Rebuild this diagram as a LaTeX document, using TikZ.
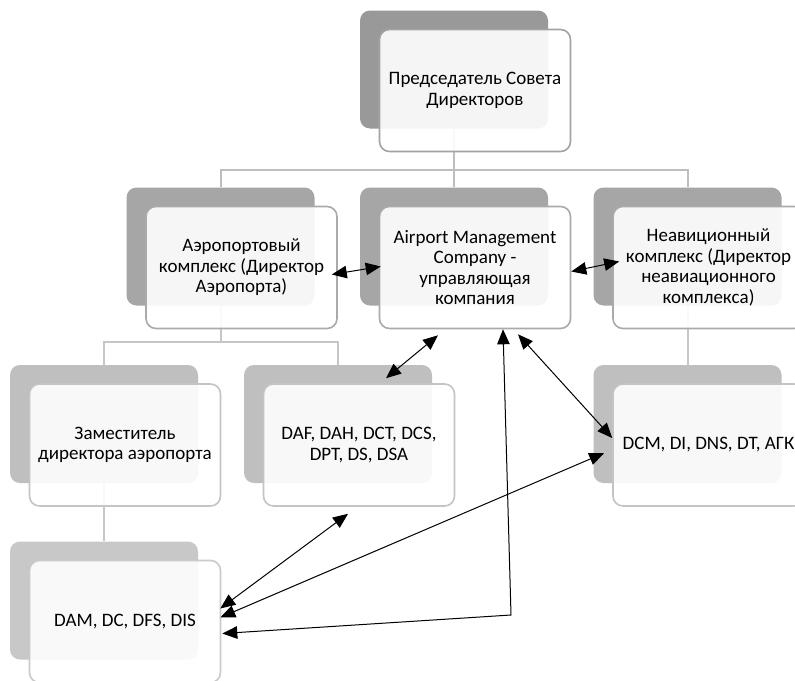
\documentclass[tikz,border=0pt]{standalone}
\usepackage{fontspec}
\setmainfont{Carlito}
\usetikzlibrary{arrows.meta}
\definecolor{plateA}{RGB}{153,153,153}
\definecolor{plateB}{RGB}{166,166,166}
\definecolor{plateC}{RGB}{191,191,191}
\definecolor{plateD}{RGB}{200,200,200}
\definecolor{rimA}{RGB}{163,163,163}
\definecolor{rimB}{RGB}{170,170,170}
\definecolor{rimC}{RGB}{196,196,196}
\definecolor{rimD}{RGB}{202,202,202}
\definecolor{linkA}{RGB}{190,190,190}
\definecolor{linkB}{RGB}{198,198,198}
\begin{document}
\begin{tikzpicture}[x=1pt,y=-1pt,
  back/.style={fill=#1, rounded corners=10pt, minimum width=188pt, minimum height=118pt, inner sep=0pt},
  card/.style={draw=#1, line width=1.6pt, fill=white, fill opacity=0.9, text opacity=1,
    rounded corners=10pt, minimum width=191pt, minimum height=122pt, inner sep=0pt,
    align=center, font=\fontsize{19}{20.6}\selectfont},
  link/.style={draw=#1, line width=2pt},
  rel/.style={line width=1pt, black, {Triangle[length=15pt,width=12.5pt]}-{Triangle[length=15pt,width=12.5pt]}}
]
\clip (0,0) rectangle (795,680);
\fill[white] (0,0) rectangle (795,680);

% shadow plates of the cards
\node[back=plateA] (topB) at (454,69.5) {};
\node[back=plateB] (l2lB) at (220.5,246.5) {};
\node[back=plateB] (l2mB) at (454,246.5) {};
\node[back=plateB] (l2rB) at (687.5,246.5) {};
\node[back=plateC] (l3lB) at (104,424) {};
\node[back=plateC] (l3mB) at (338,424) {};
\node[back=plateC] (l3rB) at (687.5,424) {};
\node[back=plateD] (l4B) at (104,600.5) {};

% hierarchy links
\coordinate (hub1) at (454,170);
\coordinate (hub2) at (220.5,342);
\draw[link=linkA] (topB) -- (hub1);
\draw[link=linkA] (hub1) -| (l2lB);
\draw[link=linkA] (hub1) -| (l2rB);
\draw[link=linkA] (hub1) -- (l2mB);
\draw[link=linkB] (l2lB) -- (hub2);
\draw[link=linkB] (hub2) -| (l3lB);
\draw[link=linkB] (hub2) -| (l3mB);
\draw[link=linkB] (l2rB) -- (l3rB);
\draw[link=linkB] (l3lB) -- (l4B);

% cards
\node[card=rimA] (top) at ([shift={(21,21)}]topB.center) {Председатель Совета\\Директоров};
\node[card=rimB] (l2l) at ([shift={(21,21)}]l2lB.center) {Аэропортовый\\комплекс (Директор\\Аэропорта)};
\node[card=rimB] (l2m) at ([shift={(21,21)}]l2mB.center) {Airport Management\\Company -\\управляющая\\компания};
\node[card=rimB] (l2r) at ([shift={(21,21)}]l2rB.center) {Неавиционный\\комплекс (Директор\\неавиационного\\комплекса)};
\node[card=rimC] (l3l) at ([shift={(21,21)}]l3lB.center) {Заместитель\\директора аэропорта};
\node[card=rimC] (l3m) at ([shift={(21,21)}]l3mB.center) {DAF, DAH, DCT, DCS,\\DPT, DS, DSA};
\node[card=rimC] (l3r) at ([shift={(21,21)}]l3rB.center) {DCM, DI, DNS, DT, АГК};
\node[card=rimD] (l4) at ([shift={(21,21)}]l4B.center) {DAM, DC, DFS, DIS};

% relations between units
\coordinate (bend) at (511,615);
\draw[rel] ([shift={(-6,7)}]l2l.east) -- ([shift={(2,-1)}]l2m.west);
\draw[rel] ([shift={(0,4)}]l2m.east) -- ([shift={(7,-6)}]l2r.west);
\draw[rel] ([shift={(-37,6)}]l2m.south) -- ([shift={(27,-5)}]l3m.north);
\draw[rel] ([shift={(43,5)}]l2m.south) -- ([shift={(0,-7)}]l3r.west);
\draw[rel] ([shift={(-11,7)}]l3m.south) -- ([shift={(-1,-13)}]l4.east);
\draw[rel] ([shift={(-8,8)}]l3r.west) -- ([shift={(-1,-4)}]l4.east);
\draw[rel] ([shift={(28,0)}]l2m.south) -- (bend) -- ([shift={(1,12)}]l4.east);
\end{tikzpicture}
\end{document}
